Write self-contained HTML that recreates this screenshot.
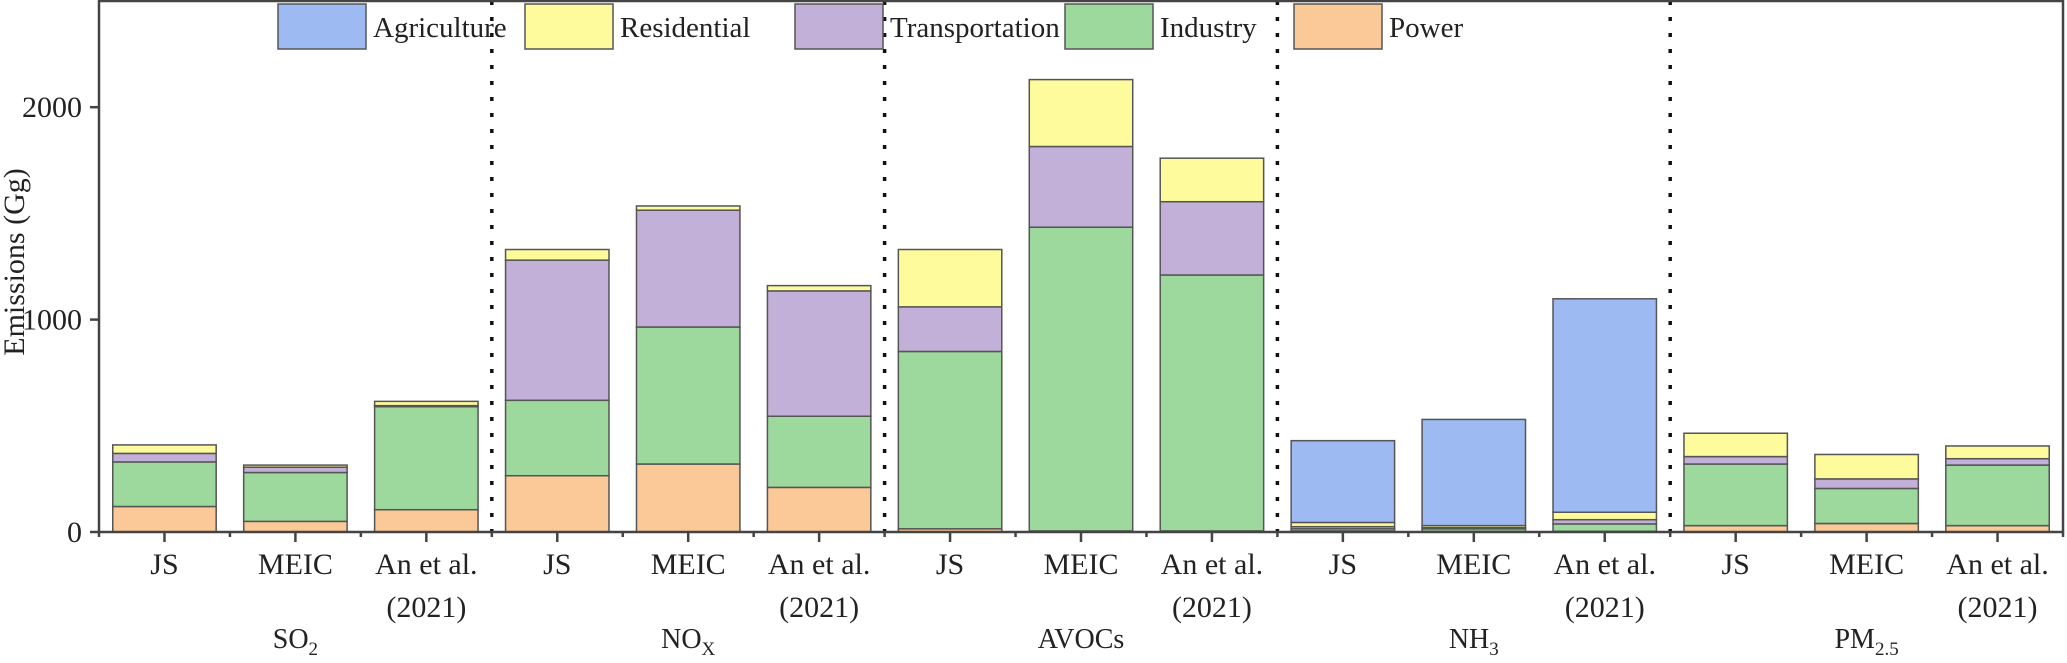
<!DOCTYPE html>
<html><head><meta charset="utf-8">
<style>
html,body{margin:0;padding:0;background:#fff;}
svg{display:block;}
svg text{font-family:"Liberation Serif","DejaVu Serif",serif;}
</style></head>
<body>
<svg id="chart" width="2067" height="663" viewBox="0 0 2067 663" xmlns="http://www.w3.org/2000/svg" font-family="Liberation Serif, DejaVu Serif, serif"></svg>
<script>
const categories = ["JS","MEIC","An et al.","JS","MEIC","An et al.","JS","MEIC","An et al.","JS","MEIC","An et al.","JS","MEIC","An et al."];
const groups = ["SO2","NOX","AVOCs","NH3","PM2.5"];
const power = [120,50,105,265,320,210,15,5,5,5,3,3,30,40,30];
const industry = [210,230,485,355,645,335,835,1430,1205,10,12,35,290,165,285];
const transportation = [40,25,5,660,550,590,210,380,345,10,5,20,35,45,30];
const residential = [40,10,20,50,20,25,270,315,205,20,10,35,110,115,60];
const agriculture = [0,0,0,0,0,0,0,0,0,385,500,1005,0,0,0];
const yTicks = [0,1000,2000];

const svg = document.getElementById('chart');
const NS = 'http://www.w3.org/2000/svg';
const FF = '"Liberation Serif","DejaVu Serif",serif';
const L=99, R=2063, T=1, B=532, YMAX=2500;
const slot=(R-L)/categories.length, bw=slot*0.79;
function y(v){return B-(v/YMAX)*(B-T);}
function xc(i){return L+slot*(i+0.5);}
function mk(tag,attrs,parent){const e=document.createElementNS(NS,tag);for(const k in attrs)e.setAttribute(k,attrs[k]);if(tag==='text')e.setAttribute('font-family',FF);(parent||svg).appendChild(e);return e;}

const series=[
 {name:'power',vals:power,color:'#fbc898'},
 {name:'industry',vals:industry,color:'#9dd89d'},
 {name:'transportation',vals:transportation,color:'#c2b0d8'},
 {name:'residential',vals:residential,color:'#fdfb9c'},
 {name:'agriculture',vals:agriculture,color:'#9dbaf2'}
];
const gBars=mk('g',{});


for(let i=0;i<categories.length;i++){
  let base=0;
  for(const s of series){
    const v=s.vals[i]; if(v<=0) continue;
    const r=mk('rect',{x:xc(i)-bw/2,y:y(base+v),width:bw,height:y(base)-y(base+v),fill:s.color,stroke:'#555','stroke-width':1.5},gBars);
    
    
    base+=v;
  }
}
for(let g=1;g<groups.length;g++){
  const x=L+slot*3*g;
  const l=mk('line',{x1:x,y1:T,x2:x,y2:B,stroke:'#111','stroke-width':3.5,'stroke-dasharray':'4 12'});
  
  
}
const fr=mk('rect',{x:L,y:T,width:R-L,height:B-T,fill:'none',stroke:'#444','stroke-width':2.5});


for(const t of yTicks){
  mk('line',{x1:L-9,y1:y(t),x2:L,y2:y(t),stroke:'#444','stroke-width':2.5});
  const tx=mk('text',{x:L-17,y:y(t)+10,'text-anchor':'end','font-size':30,fill:'#222'});
  tx.textContent=t;
  
  
}
const yt=mk('text',{transform:'translate(24,262) rotate(-90)','text-anchor':'middle','font-size':30,fill:'#222'});
yt.textContent='Emissions (Gg)';


for(let i=0;i<=categories.length;i++){
  const x=L+slot*i;
  mk('line',{x1:x,y1:B,x2:x,y2:B+5,stroke:'#444','stroke-width':2.5});
}
for(let i=0;i<categories.length;i++){
  mk('line',{x1:xc(i),y1:B,x2:xc(i),y2:B+10,stroke:'#444','stroke-width':2.5});
  const t=mk('text',{x:xc(i),y:574,'text-anchor':'middle','font-size':30,fill:'#222'});
  t.textContent=categories[i];
  
  
  if(categories[i]==='An et al.'){
    const t2=mk('text',{x:xc(i),y:617,'text-anchor':'middle','font-size':30,fill:'#222'});
    t2.textContent='(2021)';
    
    
  }
}
const gl=[['SO','2'],['NO','X'],['AVOCs',''],['NH','3'],['PM','2.5']];
for(let g=0;g<groups.length;g++){
  const t=mk('text',{x:xc(g*3+1),y:648,'text-anchor':'middle','font-size':28,fill:'#222'});
  
  
  const a=mk('tspan',{},t); a.textContent=gl[g][0];
  if(gl[g][1]){const b=mk('tspan',{'font-size':19,dy:7},t); b.textContent=gl[g][1];}
}
const leg=[['Agriculture','#9dbaf2',278],['Residential','#fdfb9c',525],['Transportation','#c2b0d8',795],['Industry','#9dd89d',1065],['Power','#fbc898',1294]];
for(const [n,c,x] of leg){
  const g=mk('g',{});
  
  
  mk('rect',{x:x,y:4,width:88,height:45,fill:c,stroke:'#555','stroke-width':1.5},g);
  const t=mk('text',{x:x+95,y:37,'font-size':29,fill:'#222'},g);
  t.textContent=n;
}
</script>
</body></html>
